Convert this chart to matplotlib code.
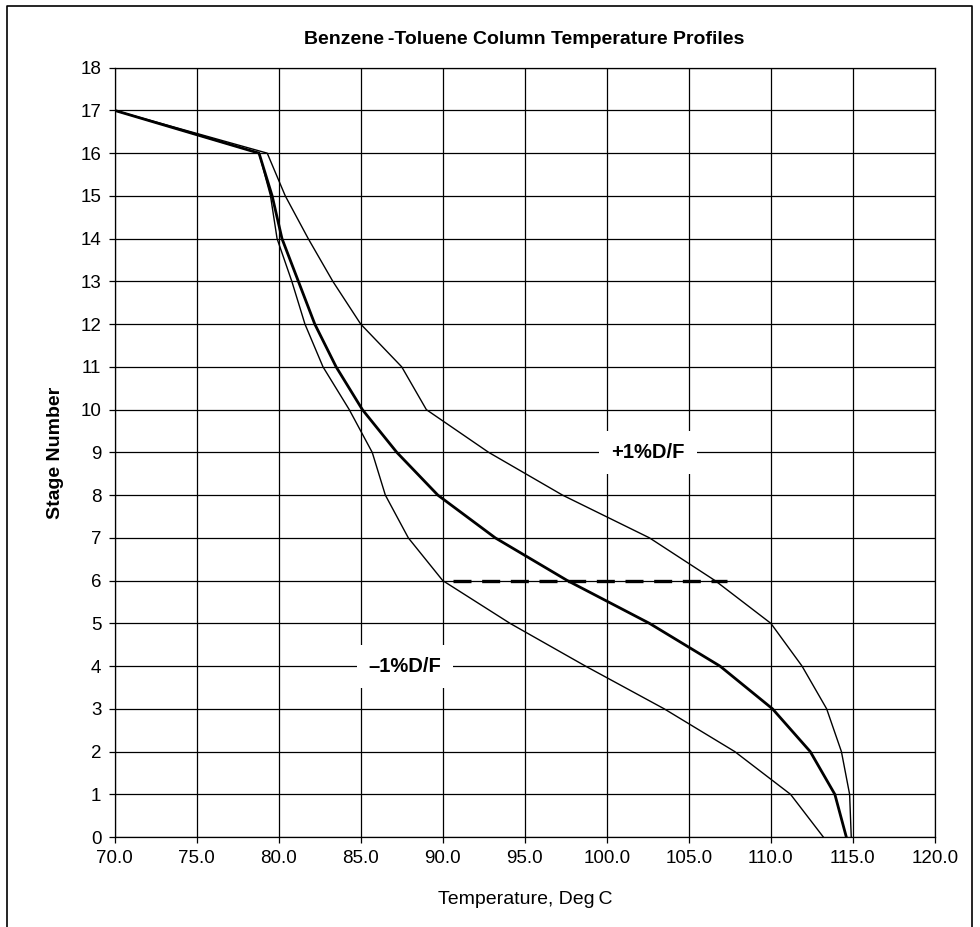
import matplotlib
matplotlib.use('Agg')
import matplotlib.pyplot as plt
from matplotlib.lines import Line2D

plt.rcParams['font.family'] = ['Liberation Sans', 'DejaVu Sans']

# stage numbers, bottom (0) to top (17)
stages = list(range(0, 18))

# temperatures (deg C) for each stage
temp_base = [114.6, 113.9, 112.4, 110.1, 106.9, 102.6, 97.6, 93.2, 89.7,
             87.2, 85.1, 83.5, 82.2, 81.2, 80.2, 79.6, 78.8, 70.0]
temp_plus = [114.9, 114.8, 114.3, 113.4, 111.9, 110.0, 106.6, 102.6, 97.3,
             92.8, 89.0, 87.5, 85.0, 83.3, 81.8, 80.4, 79.3, 70.0]
temp_minus = [113.2, 111.2, 107.8, 103.5, 98.7, 94.1, 90.0, 87.9, 86.5,
              85.7, 84.3, 82.7, 81.6, 80.8, 79.9, 79.5, 78.8, 70.0]

# dashed marker line at stage 6
dash_temps = [90.6, 107.3]
dash_stage = [6, 6]

x_ticks = [70, 75, 80, 85, 90, 95, 100, 105, 110, 115, 120]
y_ticks = list(range(0, 19))

fig = plt.figure(figsize=(9.8, 9.27), dpi=100)
ax = fig.add_axes([0.117, 0.097, 0.837, 0.830])

ax.plot(temp_plus, stages, color='black', lw=1.0, zorder=3)
ax.plot(temp_minus, stages, color='black', lw=1.0, zorder=3)
ax.plot(temp_base, stages, color='black', lw=2.0, zorder=4)
ax.plot(dash_temps, dash_stage, color='black', lw=2.4, dashes=(5.4, 3.2), zorder=4)

ax.set_xlim(70, 120)
ax.set_ylim(0, 18)
ax.set_xticks(x_ticks)
ax.set_xticklabels(['%.1f' % v for v in x_ticks])
ax.set_yticks(y_ticks)
ax.grid(True, color='black', lw=0.9)
ax.set_axisbelow(True)
for s in ax.spines.values():
    s.set_linewidth(0.9)
ax.tick_params(direction='out', length=4.5, width=0.9, labelsize=13.5, pad=5)

ax.text(102.5, 9, '+1%D/F', fontsize=14.5, fontweight='bold', ha='center', va='center',
        bbox=dict(boxstyle='square,pad=0.6', fc='white', ec='none'), zorder=5)
ax.text(87.7, 4, '\u20131%D/F', fontsize=14.5, fontweight='bold', ha='center', va='center',
        bbox=dict(boxstyle='square,pad=0.6', fc='white', ec='none'), zorder=5)

ax.set_xlabel('Temperature, Deg\u2009C', fontsize=14, labelpad=17)
ax.set_ylabel('Stage Number', fontsize=14, fontweight='bold', labelpad=12)
fig.text(0.535, 0.957, 'Benzene\u2009-Toluene Column Temperature Profiles', fontsize=14,
         fontweight='bold', ha='center', va='center')

# page frame (left, top, right edges)
fig.add_artist(Line2D([0.007, 0.007, 0.992, 0.992], [0.0, 0.9935, 0.9935, 0.0],
                      transform=fig.transFigure, color='black', lw=1.2))

fig.savefig('out.png', dpi=100)
